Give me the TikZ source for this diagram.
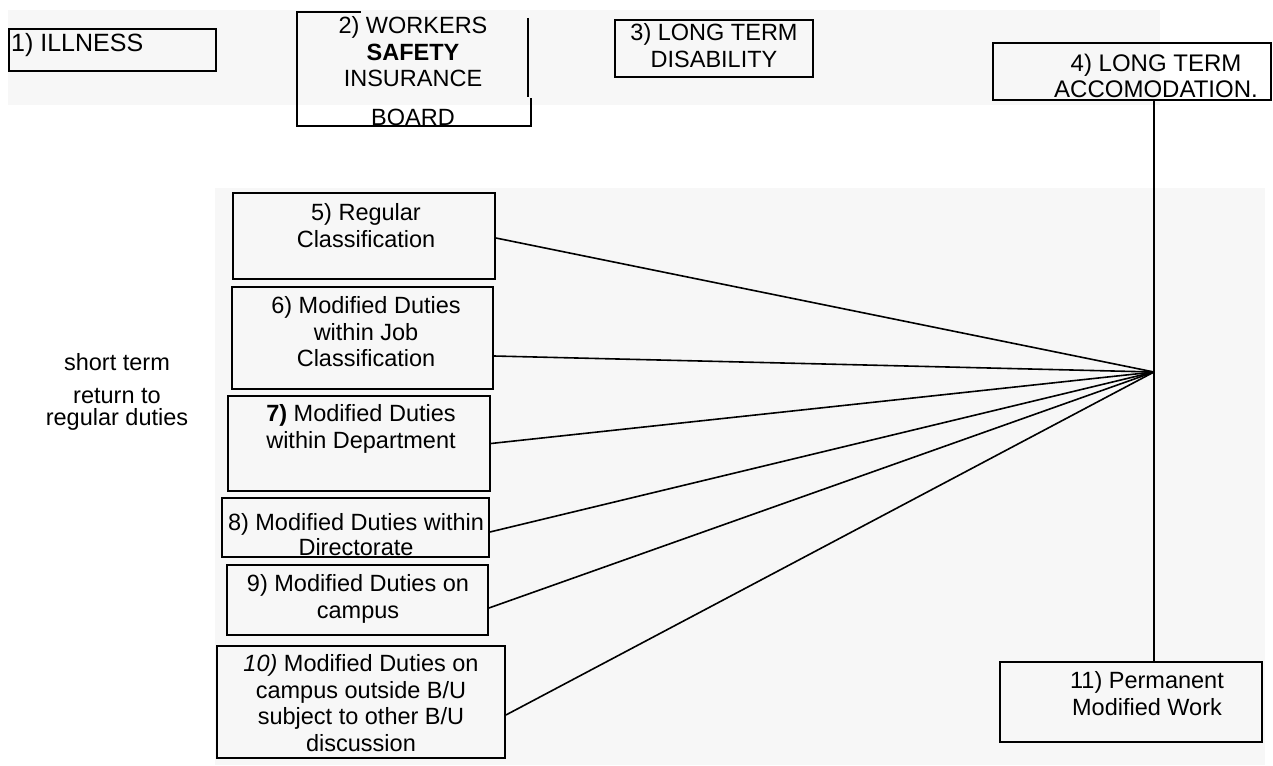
\documentclass[tikz,border=0pt]{standalone}
\usepackage{fontspec}
\setmainfont{Liberation Sans}
\definecolor{scan}{HTML}{F7F7F7}
\tikzset{
  box/.style={draw, line width=1.8pt, inner sep=0pt},
  txt/.style={align=center, inner sep=0pt, anchor=north, font=\fontsize{23.5}{26.5}\selectfont},
  link/.style={line width=1.6pt},
}
\begin{document}
\begin{tikzpicture}[x=1pt,y=-1pt]
\useasboundingbox (0,0) rectangle (1273,765);
% faint scan background
\fill[scan] (8,10) rectangle (1160,105);
\fill[scan] (215,188) rectangle (1265,765);

% top row
\node[box, minimum width=207pt, minimum height=42pt] (b1) at (112.5,50) {};
\node[txt, anchor=north west, font=\fontsize{25}{28}\selectfont] (t1) at (11,33) {1) ILLNESS};

\draw[line width=1.8pt] (361,12) -- (297,12) -- (297,126) -- (531,126) -- (531,98);
\draw[line width=1.6pt] (528,18) -- (528,97);
\node[txt] (t2) at (413,16.5) {2) WORKERS\\ \textbf{SAFETY}\\ INSURANCE\\[12pt] BOARD};

\node[box, minimum width=198pt, minimum height=57pt] (b3) at (714,48.5) {};
\node[txt] (t3) at (714,23.5) {3) LONG TERM\\ DISABILITY};

\node[box, minimum width=278pt, minimum height=57pt] (b4) at (1132,71.5) {};
\node[txt, font=\fontsize{24}{26.5}\selectfont] (t4) at (1156,53.5) {4) LONG TERM\\ ACCOMODATION.};

% left column
\node[box, minimum width=262pt, minimum height=86pt] (b5) at (364,236) {};
\node[txt] (t5) at (366,203.5) {5) Regular\\ Classification};

\node[box, minimum width=261pt, minimum height=102pt] (b6) at (362.5,338) {};
\node[txt] (t6) at (366,296.5) {6) Modified Duties\\ within Job\\ Classification};

\node[box, minimum width=262pt, minimum height=95pt] (b7) at (359,443.5) {};
\node[txt] (t7) at (361,404.5) {\textbf{7)} Modified Duties\\ within Department};

\node[box, minimum width=267pt, minimum height=59pt] (b8) at (355.5,527.5) {};
\node[txt, font=\fontsize{23.5}{25}\selectfont] (t8) at (356,513.5) {8) Modified Duties within\\ Directorate};

\node[box, minimum width=261pt, minimum height=70pt] (b9) at (357.5,600) {};
\node[txt] (t9) at (358,574.5) {9) Modified Duties on\\ campus};

\node[box, minimum width=288pt, minimum height=112pt] (b10) at (361,702) {};
\node[txt] (t10) at (361,654.5) {\textit{10)} Modified Duties on\\ campus outside B/U\\ subject to other B/U\\ discussion};

\node[txt] (ts) at (117,353.5) {short term\\[6pt] return to\hspace*{18pt}\\[-4pt] regular duties};

% right bottom
\node[box, minimum width=262pt, minimum height=80pt] (b11) at (1131,702) {};
\node[txt] (t11) at (1147,671.5) {11) Permanent\\ Modified Work};

% connectors
\coordinate (hub) at (1154,372);
\draw[line width=2.2pt] (b4.south -| hub) -- (b11.north -| hub);
\draw[link] ([yshift=-2pt]b5.east) -- (hub);
\draw[link] ([yshift=-18pt]b6.east) -- (hub);
\draw[link] (b7.east) -- (hub);
\draw[link] ([yshift=-4.5pt]b8.east) -- (hub);
\draw[link] ([yshift=-8pt]b9.east) -- (hub);
\draw[link] ([yshift=-13pt]b10.east) -- (hub);
\end{tikzpicture}
\end{document}
